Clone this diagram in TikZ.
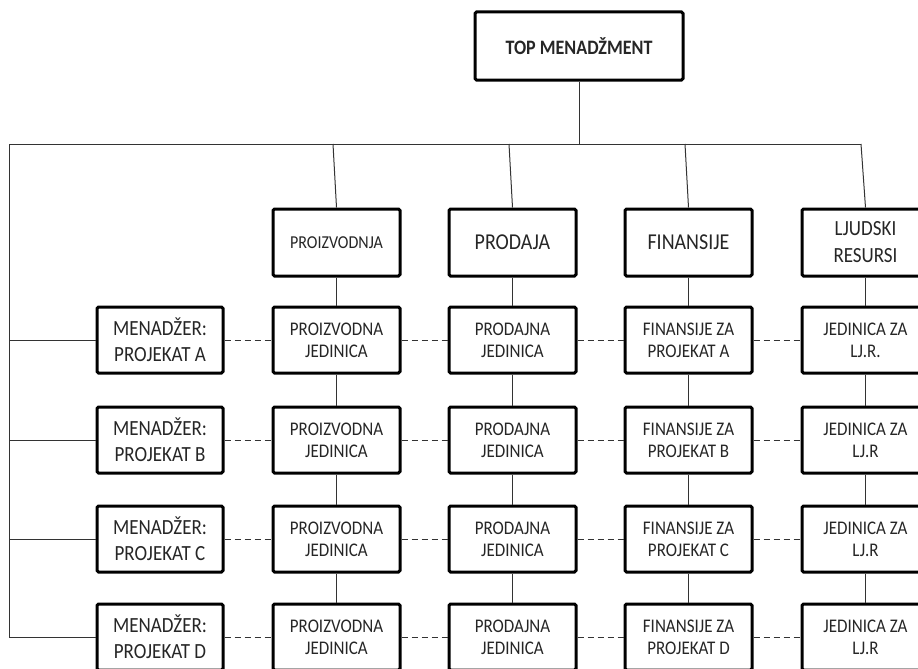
\documentclass[tikz,border=0pt]{standalone}
\usepackage{fontspec}
\setmainfont{Carlito}[FakeStretch=0.88]
\begin{document}
\begin{tikzpicture}[x=1pt,y=-1pt,
  box/.style={draw=black, line width=3pt, rounded corners=1.5pt, minimum width=127pt, minimum height=66pt, align=center, inner sep=0pt, fill=white, text=black!85},
  rowbox/.style={box, font=\fontsize{19.3}{22}\selectfont},
  mgrbox/.style={box, minimum width=126pt, font=\fontsize{21.6}{26}\selectfont},
  hdrbox/.style={box, minimum height=67pt, font=\fontsize{22.7}{27}\selectfont},
  conn/.style={draw=black!80, line width=1pt},
  dashconn/.style={draw=black!80, line width=1pt, dash pattern=on 6pt off 4pt}]
\clip (0,0) rectangle (918,669);
\fill[white] (0,0) rectangle (918,669);

% top
\node[box, minimum width=208pt, minimum height=68pt, font=\fontsize{20.5}{24}\selectfont\bfseries] (top) at (579,46) {TOP MENADŽMENT};

% headers
\node[hdrbox, font=\fontsize{18.2}{22}\selectfont] (h1) at (336.5,242.5) {PROIZVODNJA};
\node[hdrbox] (h2) at (512.5,242.5) {PRODAJA};
\node[hdrbox] (h3) at (688.5,242.5) {FINANSIJE};
\node[hdrbox, font=\fontsize{21.6}{27}\selectfont] (h4) at (865.5,242.5) {LJUDSKI\\RESURSI};

% managers
\node[mgrbox] (ma) at (160,340) {MENADŽER:\\PROJEKAT A};
\node[mgrbox] (mb) at (160,440) {MENADŽER:\\PROJEKAT B};
\node[mgrbox] (mc) at (160,539) {MENADŽER:\\PROJEKAT C};
\node[mgrbox] (md) at (160,637) {MENADŽER:\\PROJEKAT D};

% row A
\node[rowbox] (pza) at (336.5,340) {PROIZVODNA\\JEDINICA};
\node[rowbox] (pra) at (512.5,340) {PRODAJNA\\JEDINICA};
\node[rowbox] (fia) at (688.5,340) {FINANSIJE ZA\\PROJEKAT A};
\node[rowbox] (lja) at (865.5,340) {JEDINICA ZA\\LJ.R.};
% row B
\node[rowbox] (pzb) at (336.5,440) {PROIZVODNA\\JEDINICA};
\node[rowbox] (prb) at (512.5,440) {PRODAJNA\\JEDINICA};
\node[rowbox] (fib) at (688.5,440) {FINANSIJE ZA\\PROJEKAT B};
\node[rowbox] (ljb) at (865.5,440) {JEDINICA ZA\\LJ.R};
% row C
\node[rowbox] (pzc) at (336.5,539) {PROIZVODNA\\JEDINICA};
\node[rowbox] (prc) at (512.5,539) {PRODAJNA\\JEDINICA};
\node[rowbox] (fic) at (688.5,539) {FINANSIJE ZA\\PROJEKAT C};
\node[rowbox] (ljc) at (865.5,539) {JEDINICA ZA\\LJ.R};
% row D
\node[rowbox] (pzd) at (336.5,637) {PROIZVODNA\\JEDINICA};
\node[rowbox] (prd) at (512.5,637) {PRODAJNA\\JEDINICA};
\node[rowbox] (fid) at (688.5,637) {FINANSIJE ZA\\PROJEKAT D};
\node[rowbox] (ljd) at (865.5,637) {JEDINICA ZA\\LJ.R};

% bar coordinates
\coordinate (bl) at (9,144);
\coordinate (br) at (861,144);
\coordinate (b1) at (333,144);
\coordinate (b2) at (509,144);
\coordinate (b3) at (685,144);
\coordinate (bd) at (9,637);

% solid connectors
\draw[conn] (top.south) -- (top.south |- bl);
\draw[conn] (bl) -- (br);
\draw[conn] (b1) -- (h1.north);
\draw[conn] (b2) -- (h2.north);
\draw[conn] (b3) -- (h3.north);
\draw[conn] (br) -- (h4.north);
\draw[conn] (bl) -- (bd);
\draw[conn] (bl |- ma.west) -- (ma.west);
\draw[conn] (bl |- mb.west) -- (mb.west);
\draw[conn] (bl |- mc.west) -- (mc.west);
\draw[conn] (bd) -- (md.west);
\foreach \c/\h in {pz/h1, pr/h2, fi/h3, lj/h4}{
  \draw[conn] (\h.south) -- (\c a.north);
  \draw[conn] (\c a.south) -- (\c b.north);
  \draw[conn] (\c b.south) -- (\c c.north);
  \draw[conn] (\c c.south) -- (\c d.north);
}
% dashed connectors
\foreach \r in {a,b,c,d}{
  \draw[dashconn] (m\r.east) -- (pz\r.west);
  \draw[dashconn] (pz\r.east) -- (pr\r.west);
  \draw[dashconn] (pr\r.east) -- (fi\r.west);
  \draw[dashconn] (fi\r.east) -- (lj\r.west);
}
\end{tikzpicture}
\end{document}
